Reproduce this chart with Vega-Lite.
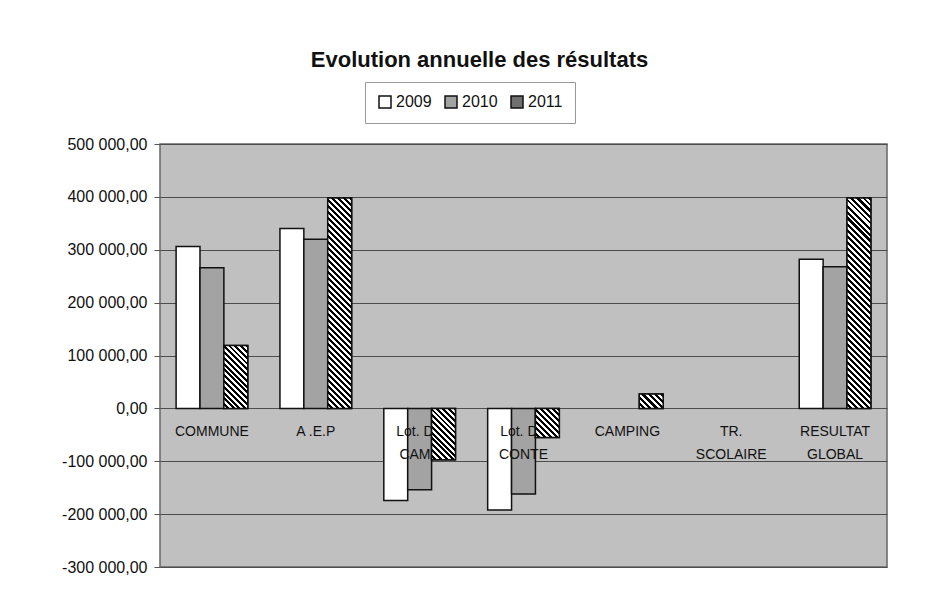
{
  "$schema": "https://vega.github.io/schema/vega-lite/v6.json",
  "width": 727,
  "height": 423,
  "autosize": "none",
  "padding": {"left": 160, "top": 144, "right": 49, "bottom": 34},
  "background": "#ffffff",
  "config": {
    "view": {"fill": "#c0c0c0", "stroke": "#666666", "strokeWidth": 1.5},
    "font": "Liberation Sans"
  },
  "title": {"text": "Evolution annuelle des résultats", "fontSize": 22, "fontWeight": "bold", "color": "#111111", "anchor": "middle", "dx": -44, "offset": 10},
  "datasets": {
    "bars": [
      {"cat": "COMMUNE", "year": "2009", "value": 306000},
      {"cat": "COMMUNE", "year": "2010", "value": 266000},
      {"cat": "COMMUNE", "year": "2011", "value": 119000},
      {"cat": "A .E.P", "year": "2009", "value": 340000},
      {"cat": "A .E.P", "year": "2010", "value": 320000},
      {"cat": "A .E.P", "year": "2011", "value": 398000},
      {"cat": "Lot. DE CAMP", "year": "2009", "value": -174000},
      {"cat": "Lot. DE CAMP", "year": "2010", "value": -154000},
      {"cat": "Lot. DE CAMP", "year": "2011", "value": -97000},
      {"cat": "Lot. DE CONTE", "year": "2009", "value": -192000},
      {"cat": "Lot. DE CONTE", "year": "2010", "value": -162000},
      {"cat": "Lot. DE CONTE", "year": "2011", "value": -55000},
      {"cat": "CAMPING", "year": "2011", "value": 27000},
      {"cat": "RESULTAT GLOBAL", "year": "2009", "value": 282000},
      {"cat": "RESULTAT GLOBAL", "year": "2010", "value": 268000},
      {"cat": "RESULTAT GLOBAL", "year": "2011", "value": 398000}
    ],
    "labels": [
      {"cat": "COMMUNE", "label": "COMMUNE"},
      {"cat": "A .E.P", "label": "A .E.P"},
      {"cat": "Lot. DE CAMP", "label": "Lot. DE\nCAMP"},
      {"cat": "Lot. DE CONTE", "label": "Lot. DE\nCONTE"},
      {"cat": "CAMPING", "label": "CAMPING"},
      {"cat": "TR. SCOLAIRE", "label": "TR.\nSCOLAIRE"},
      {"cat": "RESULTAT GLOBAL", "label": "RESULTAT\nGLOBAL"}
    ]
  },
  "encoding": {
    "x": {
      "field": "cat", "type": "nominal", "sort": null,
      "scale": {"domain": ["COMMUNE", "A .E.P", "Lot. DE CAMP", "Lot. DE CONTE", "CAMPING", "TR. SCOLAIRE", "RESULTAT GLOBAL"], "paddingInner": 0.31, "paddingOuter": 0.155},
      "axis": null
    }
  },
  "layer": [
    {
      "data": {"name": "bars"},
      "mark": {"type": "bar", "stroke": "#111111", "strokeWidth": 1.5},
      "encoding": {
        "xOffset": {"field": "year", "type": "nominal", "scale": {"domain": ["2009", "2010", "2011"], "paddingInner": 0, "paddingOuter": 0}},
        "y": {
          "field": "value", "type": "quantitative",
          "scale": {"domain": [-300000, 500000], "nice": false, "zero": false},
          "axis": {
            "title": null, "values": [-300000, -200000, -100000, 0, 100000, 200000, 300000, 400000, 500000],
            "labelExpr": "replace(replace(replace(format(datum.value, ',.2f'), ',', ' '), '.', ','), '\u2212', '-')",
            "grid": true, "gridColor": "#4d4d4d", "gridWidth": 1, "domain": false,
            "tickColor": "#555555", "tickSize": 6, "labelFontSize": 16, "labelColor": "#111111", "labelPadding": 7
          }
        },
        "fill": {
          "field": "year", "type": "nominal",
          "scale": {"domain": ["2009", "2010", "2011"], "range": ["#ffffff", "#a3a3a3", "#707070"]},
          "legend": {
            "title": null, "orient": "none", "legendX": 205, "legendY": -62, "direction": "horizontal",
            "symbolType": "square", "symbolSize": 144, "symbolStrokeColor": "#111111", "symbolStrokeWidth": 1.5,
            "labelFontSize": 16, "labelColor": "#111111", "labelOffset": 3, "columnPadding": 10,
            "padding": 12, "strokeColor": "#999999", "fillColor": "#ffffff"
          }
        }
      }
    },
    {
      "data": {"name": "labels"},
      "mark": {"type": "text", "baseline": "top", "align": "center", "dy": 17, "fontSize": 14, "lineHeight": 23, "lineBreak": "\n", "color": "#111111"},
      "encoding": {
        "y": {"datum": 0, "type": "quantitative"},
        "text": {"field": "label"}
      }
    },
    {
      "data": {"name": "bars"},
      "encoding": {
        "xOffset": {"field": "year", "type": "nominal"},
        "y": {"field": "value", "type": "quantitative"}
      },
      "layer": [
        {
          "transform": [{"filter": "datum.year == '2011' && (datum.cat == 'A .E.P' || datum.cat == 'RESULTAT GLOBAL')"}],
          "mark": {"type": "bar", "stroke": "#111111", "strokeWidth": 1.5, "fill": {"gradient": "linear", "x1": 1, "y1": 0, "x2": 0.8751, "y2": 1.0994, "stops": [
              {"offset": 0, "color": "#000"}, {"offset": 0.013, "color": "#000"}, {"offset": 0.013, "color": "#fff"}, {"offset": 0.026, "color": "#fff"},
              {"offset": 0.026, "color": "#000"}, {"offset": 0.038, "color": "#000"}, {"offset": 0.038, "color": "#fff"}, {"offset": 0.051, "color": "#fff"},
              {"offset": 0.051, "color": "#000"}, {"offset": 0.064, "color": "#000"}, {"offset": 0.064, "color": "#fff"}, {"offset": 0.077, "color": "#fff"},
              {"offset": 0.077, "color": "#000"}, {"offset": 0.09, "color": "#000"}, {"offset": 0.09, "color": "#fff"}, {"offset": 0.103, "color": "#fff"},
              {"offset": 0.103, "color": "#000"}, {"offset": 0.115, "color": "#000"}, {"offset": 0.115, "color": "#fff"}, {"offset": 0.128, "color": "#fff"},
              {"offset": 0.128, "color": "#000"}, {"offset": 0.141, "color": "#000"}, {"offset": 0.141, "color": "#fff"}, {"offset": 0.154, "color": "#fff"},
              {"offset": 0.154, "color": "#000"}, {"offset": 0.167, "color": "#000"}, {"offset": 0.167, "color": "#fff"}, {"offset": 0.179, "color": "#fff"},
              {"offset": 0.179, "color": "#000"}, {"offset": 0.192, "color": "#000"}, {"offset": 0.192, "color": "#fff"}, {"offset": 0.205, "color": "#fff"},
              {"offset": 0.205, "color": "#000"}, {"offset": 0.218, "color": "#000"}, {"offset": 0.218, "color": "#fff"}, {"offset": 0.231, "color": "#fff"},
              {"offset": 0.231, "color": "#000"}, {"offset": 0.244, "color": "#000"}, {"offset": 0.244, "color": "#fff"}, {"offset": 0.256, "color": "#fff"},
              {"offset": 0.256, "color": "#000"}, {"offset": 0.269, "color": "#000"}, {"offset": 0.269, "color": "#fff"}, {"offset": 0.282, "color": "#fff"},
              {"offset": 0.282, "color": "#000"}, {"offset": 0.295, "color": "#000"}, {"offset": 0.295, "color": "#fff"}, {"offset": 0.308, "color": "#fff"},
              {"offset": 0.308, "color": "#000"}, {"offset": 0.321, "color": "#000"}, {"offset": 0.321, "color": "#fff"}, {"offset": 0.333, "color": "#fff"},
              {"offset": 0.333, "color": "#000"}, {"offset": 0.346, "color": "#000"}, {"offset": 0.346, "color": "#fff"}, {"offset": 0.359, "color": "#fff"},
              {"offset": 0.359, "color": "#000"}, {"offset": 0.372, "color": "#000"}, {"offset": 0.372, "color": "#fff"}, {"offset": 0.385, "color": "#fff"},
              {"offset": 0.385, "color": "#000"}, {"offset": 0.397, "color": "#000"}, {"offset": 0.397, "color": "#fff"}, {"offset": 0.41, "color": "#fff"},
              {"offset": 0.41, "color": "#000"}, {"offset": 0.423, "color": "#000"}, {"offset": 0.423, "color": "#fff"}, {"offset": 0.436, "color": "#fff"},
              {"offset": 0.436, "color": "#000"}, {"offset": 0.449, "color": "#000"}, {"offset": 0.449, "color": "#fff"}, {"offset": 0.462, "color": "#fff"},
              {"offset": 0.462, "color": "#000"}, {"offset": 0.474, "color": "#000"}, {"offset": 0.474, "color": "#fff"}, {"offset": 0.487, "color": "#fff"},
              {"offset": 0.487, "color": "#000"}, {"offset": 0.5, "color": "#000"}, {"offset": 0.5, "color": "#fff"}, {"offset": 0.513, "color": "#fff"},
              {"offset": 0.513, "color": "#000"}, {"offset": 0.526, "color": "#000"}, {"offset": 0.526, "color": "#fff"}, {"offset": 0.538, "color": "#fff"},
              {"offset": 0.538, "color": "#000"}, {"offset": 0.551, "color": "#000"}, {"offset": 0.551, "color": "#fff"}, {"offset": 0.564, "color": "#fff"},
              {"offset": 0.564, "color": "#000"}, {"offset": 0.577, "color": "#000"}, {"offset": 0.577, "color": "#fff"}, {"offset": 0.59, "color": "#fff"},
              {"offset": 0.59, "color": "#000"}, {"offset": 0.603, "color": "#000"}, {"offset": 0.603, "color": "#fff"}, {"offset": 0.615, "color": "#fff"},
              {"offset": 0.615, "color": "#000"}, {"offset": 0.628, "color": "#000"}, {"offset": 0.628, "color": "#fff"}, {"offset": 0.641, "color": "#fff"},
              {"offset": 0.641, "color": "#000"}, {"offset": 0.654, "color": "#000"}, {"offset": 0.654, "color": "#fff"}, {"offset": 0.667, "color": "#fff"},
              {"offset": 0.667, "color": "#000"}, {"offset": 0.679, "color": "#000"}, {"offset": 0.679, "color": "#fff"}, {"offset": 0.692, "color": "#fff"},
              {"offset": 0.692, "color": "#000"}, {"offset": 0.705, "color": "#000"}, {"offset": 0.705, "color": "#fff"}, {"offset": 0.718, "color": "#fff"},
              {"offset": 0.718, "color": "#000"}, {"offset": 0.731, "color": "#000"}, {"offset": 0.731, "color": "#fff"}, {"offset": 0.744, "color": "#fff"},
              {"offset": 0.744, "color": "#000"}, {"offset": 0.756, "color": "#000"}, {"offset": 0.756, "color": "#fff"}, {"offset": 0.769, "color": "#fff"},
              {"offset": 0.769, "color": "#000"}, {"offset": 0.782, "color": "#000"}, {"offset": 0.782, "color": "#fff"}, {"offset": 0.795, "color": "#fff"},
              {"offset": 0.795, "color": "#000"}, {"offset": 0.808, "color": "#000"}, {"offset": 0.808, "color": "#fff"}, {"offset": 0.821, "color": "#fff"},
              {"offset": 0.821, "color": "#000"}, {"offset": 0.833, "color": "#000"}, {"offset": 0.833, "color": "#fff"}, {"offset": 0.846, "color": "#fff"},
              {"offset": 0.846, "color": "#000"}, {"offset": 0.859, "color": "#000"}, {"offset": 0.859, "color": "#fff"}, {"offset": 0.872, "color": "#fff"},
              {"offset": 0.872, "color": "#000"}, {"offset": 0.885, "color": "#000"}, {"offset": 0.885, "color": "#fff"}, {"offset": 0.897, "color": "#fff"},
              {"offset": 0.897, "color": "#000"}, {"offset": 0.91, "color": "#000"}, {"offset": 0.91, "color": "#fff"}, {"offset": 0.923, "color": "#fff"},
              {"offset": 0.923, "color": "#000"}, {"offset": 0.936, "color": "#000"}, {"offset": 0.936, "color": "#fff"}, {"offset": 0.949, "color": "#fff"},
              {"offset": 0.949, "color": "#000"}, {"offset": 0.962, "color": "#000"}, {"offset": 0.962, "color": "#fff"}, {"offset": 0.974, "color": "#fff"},
              {"offset": 0.974, "color": "#000"}, {"offset": 0.987, "color": "#000"}, {"offset": 0.987, "color": "#fff"}, {"offset": 1, "color": "#fff"}
            ]}}
        },
        {
          "transform": [{"filter": "datum.year == '2011' && datum.cat == 'COMMUNE'"}],
          "mark": {"type": "bar", "stroke": "#111111", "strokeWidth": 1.5, "fill": {"gradient": "linear", "x1": 1, "y1": 0, "x2": 0.5418, "y2": 1.2059, "stops": [
              {"offset": 0, "color": "#000"}, {"offset": 0.033, "color": "#000"}, {"offset": 0.033, "color": "#fff"}, {"offset": 0.067, "color": "#fff"},
              {"offset": 0.067, "color": "#000"}, {"offset": 0.1, "color": "#000"}, {"offset": 0.1, "color": "#fff"}, {"offset": 0.133, "color": "#fff"},
              {"offset": 0.133, "color": "#000"}, {"offset": 0.167, "color": "#000"}, {"offset": 0.167, "color": "#fff"}, {"offset": 0.2, "color": "#fff"},
              {"offset": 0.2, "color": "#000"}, {"offset": 0.233, "color": "#000"}, {"offset": 0.233, "color": "#fff"}, {"offset": 0.267, "color": "#fff"},
              {"offset": 0.267, "color": "#000"}, {"offset": 0.3, "color": "#000"}, {"offset": 0.3, "color": "#fff"}, {"offset": 0.333, "color": "#fff"},
              {"offset": 0.333, "color": "#000"}, {"offset": 0.367, "color": "#000"}, {"offset": 0.367, "color": "#fff"}, {"offset": 0.4, "color": "#fff"},
              {"offset": 0.4, "color": "#000"}, {"offset": 0.433, "color": "#000"}, {"offset": 0.433, "color": "#fff"}, {"offset": 0.467, "color": "#fff"},
              {"offset": 0.467, "color": "#000"}, {"offset": 0.5, "color": "#000"}, {"offset": 0.5, "color": "#fff"}, {"offset": 0.533, "color": "#fff"},
              {"offset": 0.533, "color": "#000"}, {"offset": 0.567, "color": "#000"}, {"offset": 0.567, "color": "#fff"}, {"offset": 0.6, "color": "#fff"},
              {"offset": 0.6, "color": "#000"}, {"offset": 0.633, "color": "#000"}, {"offset": 0.633, "color": "#fff"}, {"offset": 0.667, "color": "#fff"},
              {"offset": 0.667, "color": "#000"}, {"offset": 0.7, "color": "#000"}, {"offset": 0.7, "color": "#fff"}, {"offset": 0.733, "color": "#fff"},
              {"offset": 0.733, "color": "#000"}, {"offset": 0.767, "color": "#000"}, {"offset": 0.767, "color": "#fff"}, {"offset": 0.8, "color": "#fff"},
              {"offset": 0.8, "color": "#000"}, {"offset": 0.833, "color": "#000"}, {"offset": 0.833, "color": "#fff"}, {"offset": 0.867, "color": "#fff"},
              {"offset": 0.867, "color": "#000"}, {"offset": 0.9, "color": "#000"}, {"offset": 0.9, "color": "#fff"}, {"offset": 0.933, "color": "#fff"},
              {"offset": 0.933, "color": "#000"}, {"offset": 0.967, "color": "#000"}, {"offset": 0.967, "color": "#fff"}, {"offset": 1, "color": "#fff"}
            ]}}
        },
        {
          "transform": [{"filter": "datum.year == '2011' && datum.cat == 'Lot. DE CAMP'"}],
          "mark": {"type": "bar", "stroke": "#111111", "strokeWidth": 1.5, "fill": {"gradient": "linear", "x1": 1, "y1": 0, "x2": 0.4388, "y2": 1.2045, "stops": [
              {"offset": 0, "color": "#000"}, {"offset": 0.038, "color": "#000"}, {"offset": 0.038, "color": "#fff"}, {"offset": 0.077, "color": "#fff"},
              {"offset": 0.077, "color": "#000"}, {"offset": 0.115, "color": "#000"}, {"offset": 0.115, "color": "#fff"}, {"offset": 0.154, "color": "#fff"},
              {"offset": 0.154, "color": "#000"}, {"offset": 0.192, "color": "#000"}, {"offset": 0.192, "color": "#fff"}, {"offset": 0.231, "color": "#fff"},
              {"offset": 0.231, "color": "#000"}, {"offset": 0.269, "color": "#000"}, {"offset": 0.269, "color": "#fff"}, {"offset": 0.308, "color": "#fff"},
              {"offset": 0.308, "color": "#000"}, {"offset": 0.346, "color": "#000"}, {"offset": 0.346, "color": "#fff"}, {"offset": 0.385, "color": "#fff"},
              {"offset": 0.385, "color": "#000"}, {"offset": 0.423, "color": "#000"}, {"offset": 0.423, "color": "#fff"}, {"offset": 0.462, "color": "#fff"},
              {"offset": 0.462, "color": "#000"}, {"offset": 0.5, "color": "#000"}, {"offset": 0.5, "color": "#fff"}, {"offset": 0.538, "color": "#fff"},
              {"offset": 0.538, "color": "#000"}, {"offset": 0.577, "color": "#000"}, {"offset": 0.577, "color": "#fff"}, {"offset": 0.615, "color": "#fff"},
              {"offset": 0.615, "color": "#000"}, {"offset": 0.654, "color": "#000"}, {"offset": 0.654, "color": "#fff"}, {"offset": 0.692, "color": "#fff"},
              {"offset": 0.692, "color": "#000"}, {"offset": 0.731, "color": "#000"}, {"offset": 0.731, "color": "#fff"}, {"offset": 0.769, "color": "#fff"},
              {"offset": 0.769, "color": "#000"}, {"offset": 0.808, "color": "#000"}, {"offset": 0.808, "color": "#fff"}, {"offset": 0.846, "color": "#fff"},
              {"offset": 0.846, "color": "#000"}, {"offset": 0.885, "color": "#000"}, {"offset": 0.885, "color": "#fff"}, {"offset": 0.923, "color": "#fff"},
              {"offset": 0.923, "color": "#000"}, {"offset": 0.962, "color": "#000"}, {"offset": 0.962, "color": "#fff"}, {"offset": 1, "color": "#fff"}
            ]}}
        },
        {
          "transform": [{"filter": "datum.year == '2011' && datum.cat == 'Lot. DE CONTE'"}],
          "mark": {"type": "bar", "stroke": "#111111", "strokeWidth": 1.5, "fill": {"gradient": "linear", "x1": 1, "y1": 0, "x2": 0.1063, "y2": 1.0874, "stops": [
              {"offset": 0, "color": "#000"}, {"offset": 0.056, "color": "#000"}, {"offset": 0.056, "color": "#fff"}, {"offset": 0.111, "color": "#fff"},
              {"offset": 0.111, "color": "#000"}, {"offset": 0.167, "color": "#000"}, {"offset": 0.167, "color": "#fff"}, {"offset": 0.222, "color": "#fff"},
              {"offset": 0.222, "color": "#000"}, {"offset": 0.278, "color": "#000"}, {"offset": 0.278, "color": "#fff"}, {"offset": 0.333, "color": "#fff"},
              {"offset": 0.333, "color": "#000"}, {"offset": 0.389, "color": "#000"}, {"offset": 0.389, "color": "#fff"}, {"offset": 0.444, "color": "#fff"},
              {"offset": 0.444, "color": "#000"}, {"offset": 0.5, "color": "#000"}, {"offset": 0.5, "color": "#fff"}, {"offset": 0.556, "color": "#fff"},
              {"offset": 0.556, "color": "#000"}, {"offset": 0.611, "color": "#000"}, {"offset": 0.611, "color": "#fff"}, {"offset": 0.667, "color": "#fff"},
              {"offset": 0.667, "color": "#000"}, {"offset": 0.722, "color": "#000"}, {"offset": 0.722, "color": "#fff"}, {"offset": 0.778, "color": "#fff"},
              {"offset": 0.778, "color": "#000"}, {"offset": 0.833, "color": "#000"}, {"offset": 0.833, "color": "#fff"}, {"offset": 0.889, "color": "#fff"},
              {"offset": 0.889, "color": "#000"}, {"offset": 0.944, "color": "#000"}, {"offset": 0.944, "color": "#fff"}, {"offset": 1, "color": "#fff"}
            ]}}
        },
        {
          "transform": [{"filter": "datum.year == '2011' && datum.cat == 'CAMPING'"}],
          "mark": {"type": "bar", "stroke": "#111111", "strokeWidth": 1.5, "fill": {"gradient": "linear", "x1": 1, "y1": 0, "x2": -0.1772, "y2": 0.7034, "stops": [
              {"offset": 0, "color": "#000"}, {"offset": 0.083, "color": "#000"}, {"offset": 0.083, "color": "#fff"}, {"offset": 0.167, "color": "#fff"},
              {"offset": 0.167, "color": "#000"}, {"offset": 0.25, "color": "#000"}, {"offset": 0.25, "color": "#fff"}, {"offset": 0.333, "color": "#fff"},
              {"offset": 0.333, "color": "#000"}, {"offset": 0.417, "color": "#000"}, {"offset": 0.417, "color": "#fff"}, {"offset": 0.5, "color": "#fff"},
              {"offset": 0.5, "color": "#000"}, {"offset": 0.583, "color": "#000"}, {"offset": 0.583, "color": "#fff"}, {"offset": 0.667, "color": "#fff"},
              {"offset": 0.667, "color": "#000"}, {"offset": 0.75, "color": "#000"}, {"offset": 0.75, "color": "#fff"}, {"offset": 0.833, "color": "#fff"},
              {"offset": 0.833, "color": "#000"}, {"offset": 0.917, "color": "#000"}, {"offset": 0.917, "color": "#fff"}, {"offset": 1, "color": "#fff"}
            ]}}
        }
      ]
    }
  ]
}
